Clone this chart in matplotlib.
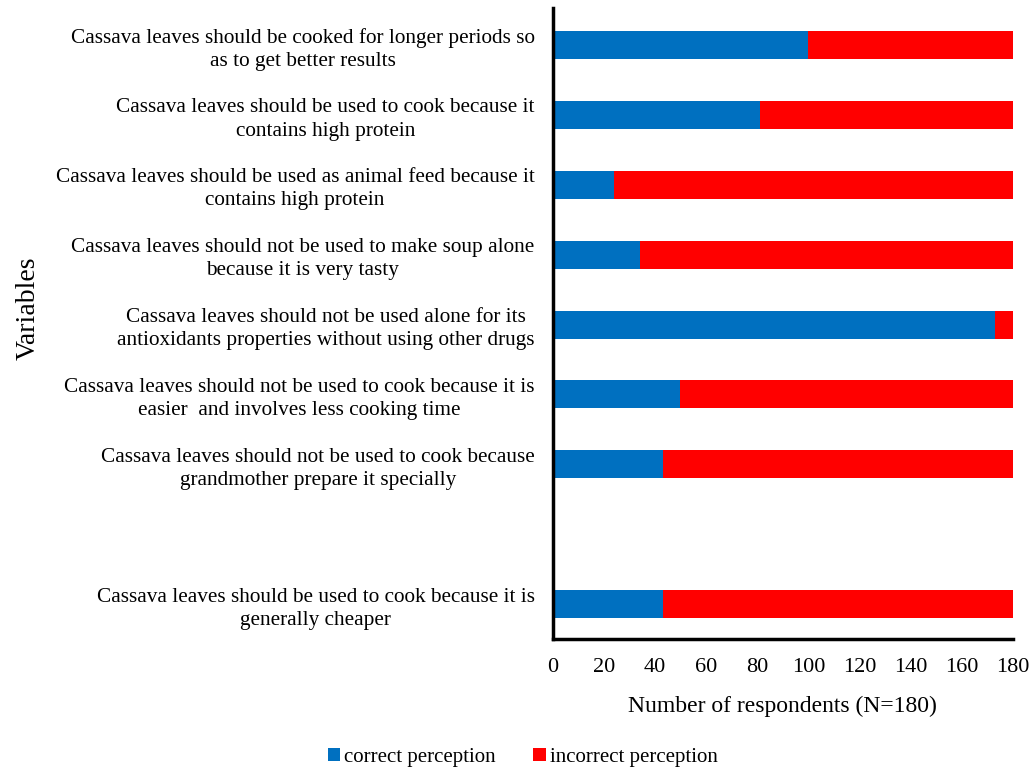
import matplotlib.pyplot as plt
import numpy as np

plt.rcParams['font.family'] = ['Liberation Serif', 'DejaVu Serif']

# Statements, bottom to top (one empty slot as in the original figure)
statements = [
    'Cassava leaves should be used to cook because it is\ngenerally cheaper',
    '',
    'Cassava leaves should not be used to cook because\ngrandmother prepare it specially',
    'Cassava leaves should not be used to cook because it is\neasier  and involves less cooking time',
    'Cassava leaves should not be used alone for its\nantioxidants properties without using other drugs',
    'Cassava leaves should not be used to make soup alone\nbecause it is very tasty',
    'Cassava leaves should be used as animal feed because it\ncontains high protein',
    'Cassava leaves should be used to cook because it\ncontains high protein',
    'Cassava leaves should be cooked for longer periods so\nas to get better results',
]
correct = [43, 0, 43, 50, 173, 34, 24, 81, 100]
incorrect = [137, 0, 137, 130, 7, 146, 156, 99, 80]
xticks = [0, 20, 40, 60, 80, 100, 120, 140, 160, 180]

y = np.arange(len(statements))
height = 0.4

fig = plt.figure(figsize=(10.31, 7.76), dpi=100)
ax = fig.add_axes([0.536, 0.1765, 0.4465, 0.8132])

ax.barh(y, correct, height, color='#0070C0', label='correct perception')
ax.barh(y, incorrect, height, left=correct, color='#FF0000', label='incorrect perception')

ax.set_xlim(0, 180)
ax.set_ylim(-0.5, len(statements) - 0.47)
ax.set_xticks(xticks)
ax.set_xticklabels([str(t) for t in xticks], fontsize=16)
ax.set_yticks(y)
ax.set_yticklabels(statements, fontsize=15.3)
for lbl in ax.get_yticklabels():
    lbl.set_multialignment('center')
    lbl.set_linespacing(1.3)
ax.tick_params(axis='both', length=0)
ax.tick_params(axis='y', pad=13)
ax.tick_params(axis='x', pad=14)

for side in ['top', 'right']:
    ax.spines[side].set_visible(False)
for side in ['left', 'bottom']:
    ax.spines[side].set_linewidth(2.5)
    ax.spines[side].set_color('black')

ax.set_xlabel('Number of respondents (N=180)', fontsize=17, labelpad=13)
fig.text(0.027, 0.603, 'Variables', rotation=90, fontsize=20, ha='center', va='center')

fig.legend(loc='lower center', bbox_to_anchor=(0.507, -0.012), ncol=2, frameon=False,
           fontsize=15, handlelength=0.6, handleheight=0.6, handletextpad=0.2,
           columnspacing=1.8)

plt.savefig('out.png', dpi=100)
